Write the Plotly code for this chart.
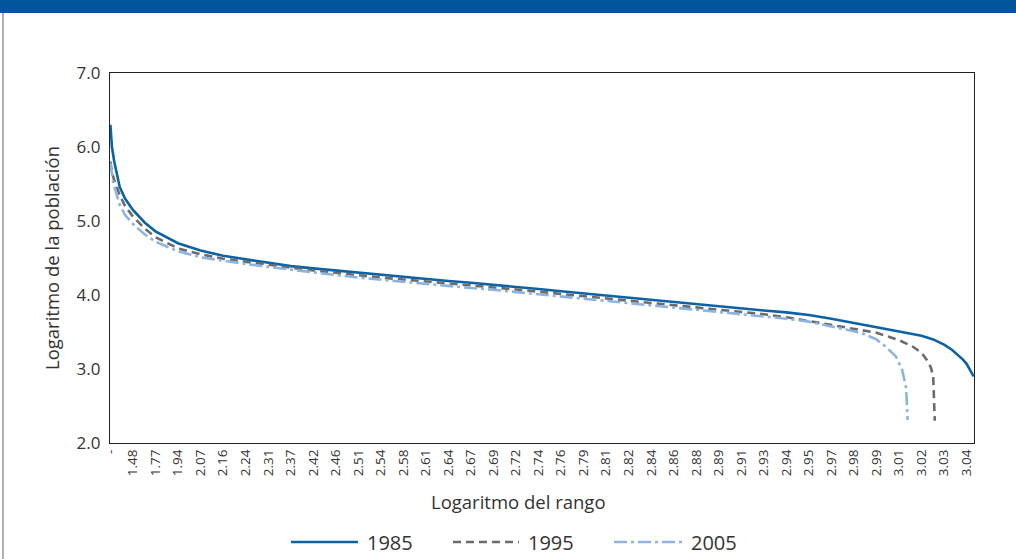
import plotly.graph_objects as go

# ---------------- data ----------------
tick_ranks = [1, 30, 59, 88, 117, 146, 175, 204, 233, 262, 291, 320, 349, 378, 407,
              436, 465, 494, 523, 552, 581, 610, 639, 668, 697, 726, 755, 784, 813,
              842, 871, 900, 929, 958, 987, 1016, 1045, 1074, 1103]
tick_labels = ["-", "1.48", "1.77", "1.94", "2.07", "2.16", "2.24", "2.31", "2.37", "2.42",
               "2.46", "2.51", "2.54", "2.58", "2.61", "2.64", "2.67", "2.69", "2.72", "2.74",
               "2.76", "2.79", "2.81", "2.82", "2.84", "2.86", "2.88", "2.89", "2.91", "2.93",
               "2.94", "2.95", "2.97", "2.98", "2.99", "3.01", "3.02", "3.03", "3.04"]

rank_1985 = [1, 3, 6, 13, 20, 30, 45, 59, 88, 117, 146, 175, 204, 233, 262, 291, 320, 349,
             378, 407, 436, 465, 494, 523, 552, 581, 610, 639, 668, 697, 726, 755, 784, 813,
             842, 871, 900, 929, 958, 987, 1016, 1045, 1060, 1074, 1084, 1092, 1098, 1103,
             1107, 1110, 1112]
y_1985 = [6.30, 6.00, 5.80, 5.46, 5.30, 5.15, 4.98, 4.86, 4.70, 4.60, 4.53, 4.48, 4.43, 4.39,
          4.36, 4.33, 4.30, 4.27, 4.245, 4.22, 4.19, 4.165, 4.14, 4.11, 4.08, 4.05, 4.02, 3.995,
          3.965, 3.935, 3.91, 3.88, 3.85, 3.82, 3.79, 3.765, 3.73, 3.68, 3.62, 3.57, 3.51, 3.45,
          3.40, 3.33, 3.26, 3.19, 3.13, 3.07, 3.00, 2.95, 2.90]

rank_1995 = [1, 3, 6, 13, 20, 30, 45, 59, 88, 117, 146, 175, 204, 233, 262, 291, 320, 349,
             378, 407, 436, 465, 494, 523, 552, 581, 610, 639, 668, 697, 726, 755, 784, 813,
             842, 871, 900, 929, 958, 987, 1016, 1034, 1045, 1052, 1057, 1060, 1061, 1062]
y_1995 = [5.80, 5.66, 5.55, 5.35, 5.20, 5.06, 4.90, 4.78, 4.63, 4.55, 4.49, 4.45, 4.40, 4.36,
          4.33, 4.30, 4.265, 4.235, 4.21, 4.185, 4.155, 4.13, 4.105, 4.075, 4.045, 4.015, 3.985,
          3.96, 3.93, 3.90, 3.87, 3.84, 3.81, 3.78, 3.74, 3.70, 3.65, 3.60, 3.55, 3.49, 3.39,
          3.30, 3.22, 3.12, 3.02, 2.90, 2.60, 2.30]

rank_2005 = [1, 5, 13, 20, 30, 45, 59, 88, 117, 146, 175, 204, 233, 262, 291, 320, 349, 378,
             407, 436, 465, 494, 523, 552, 581, 610, 639, 668, 697, 726, 755, 784, 813, 842,
             871, 900, 929, 958, 969, 987, 999, 1012, 1020, 1025, 1026, 1027]
y_2005 = [5.78, 5.50, 5.22, 5.08, 4.96, 4.82, 4.72, 4.59, 4.51, 4.46, 4.42, 4.38, 4.34, 4.30,
          4.27, 4.235, 4.205, 4.18, 4.15, 4.12, 4.095, 4.07, 4.04, 4.01, 3.98, 3.95, 3.925,
          3.895, 3.865, 3.835, 3.805, 3.775, 3.74, 3.71, 3.68, 3.64, 3.58, 3.51, 3.48, 3.40,
          3.30, 3.17, 2.99, 2.75, 2.55, 2.31]

series_names = ["1985", "1995", "2005"]

# ---------------- styling ----------------
FONT = "Open Sans, Noto Sans, sans-serif"
TXT = "#333333"
COLORS = ["#0B63A5", "#6B6B6B", "#8DB3E2"]
DASHES = ["solid", "8px,5px", "13px,4px,3px,4px"]
LW = 2.6

W, H = 1016, 559
L, R, T, B = 110, 42, 73, 116
pw, ph = W - L - R, H - T - B


def px_x(px):
    return (px - L) / pw


def px_y(py):
    return 1 - (py - T) / ph


fig = go.Figure()
for xs, ys, name, c, d in zip([rank_1985, rank_1995, rank_2005],
                              [y_1985, y_1995, y_2005],
                              series_names, COLORS, DASHES):
    fig.add_trace(go.Scatter(x=xs, y=ys, mode="lines", name=name, showlegend=False,
                             hoverinfo="skip", line=dict(color=c, width=LW, dash=d)))

shapes = [
    # top header band
    dict(type="rect", xref="paper", yref="paper",
         x0=px_x(0), x1=px_x(W), y0=px_y(13), y1=px_y(0),
         fillcolor="#00559B", line=dict(width=0), layer="below"),
    # left border of panel
    dict(type="line", xref="paper", yref="paper",
         x0=px_x(3), x1=px_x(3), y0=px_y(13), y1=px_y(H),
         line=dict(color="#7a7a7a", width=1.2)),
]

# hand-drawn legend (long sample lines as in the reference)
legend_line_x = [(291, 358), (453, 519), (614, 682)]
legend_y = 542
annotations = []
for (x0, x1), name, c, d in zip(legend_line_x, series_names, COLORS, DASHES):
    shapes.append(dict(type="line", xref="paper", yref="paper",
                       x0=px_x(x0), x1=px_x(x1), y0=px_y(legend_y), y1=px_y(legend_y),
                       line=dict(color=c, width=LW, dash=d)))
    annotations.append(dict(xref="paper", yref="paper", x=px_x(x1 + 7), y=px_y(legend_y),
                            xanchor="left", yanchor="middle", showarrow=False, text=name,
                            font=dict(size=20, color=TXT, family=FONT)))

# x-axis title (sits left of plot centre in the reference)
annotations.append(dict(xref="paper", yref="paper", x=px_x(518), y=px_y(501),
                        xanchor="center", yanchor="middle", showarrow=False,
                        text="Logaritmo del rango", font=dict(size=18.5, color=TXT, family=FONT)))

fig.update_layout(
    width=W, height=H,
    margin=dict(l=L, r=R, t=T, b=B),
    paper_bgcolor="white", plot_bgcolor="white",
    font=dict(family=FONT, color=TXT, size=16),
    shapes=shapes, annotations=annotations,
    showlegend=False,
)

fig.update_xaxes(
    range=[0.5, 1112.5], tickmode="array", tickvals=tick_ranks, ticktext=tick_labels,
    tickangle=-90, tickfont=dict(size=13.5, color=TXT), showgrid=False, zeroline=False,
    showline=True, linecolor="#222222", linewidth=1.3, mirror=True, ticks="",
)
fig.update_yaxes(
    range=[2, 7], tickmode="linear", tick0=2, dtick=1, tickformat=".1f",
    tickfont=dict(size=17, color=TXT), showgrid=False, zeroline=False,
    showline=True, linecolor="#222222", linewidth=1.3, mirror=True, ticks="",
    ticklabelstandoff=5,
    title=dict(text="Logaritmo de la población", font=dict(size=18.5, color=TXT), standoff=12),
)

fig.write_html(
    "out.html",
    config={"displayModeBar": False},
    post_script="document.body.style.margin='0';document.body.style.padding='0';"
                "document.body.style.overflow='hidden';",
)
